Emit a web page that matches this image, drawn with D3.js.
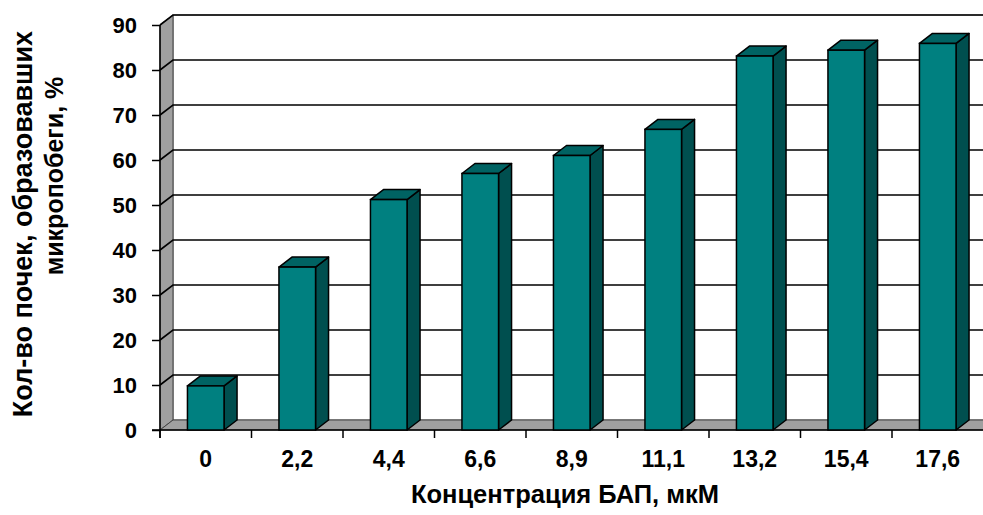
<!DOCTYPE html>
<html><head><meta charset="utf-8">
<script src="https://cdn.jsdelivr.net/npm/d3@7"></script>
<style>
html,body{margin:0;padding:0;background:#fff;}
svg{display:block;font-family:Arial,"Liberation Sans",sans-serif;}
</style></head>
<body>
<svg id="chart" width="983" height="515"></svg>
<script>
const categories = ["0","2,2","4,4","6,6","8,9","11,1","13,2","15,4","17,6"];
const values = [9.8, 36.2, 51.2, 57, 61, 66.8, 83.1, 84.4, 85.9];
const yTicks = [0,10,20,30,40,50,60,70,80,90];
const xTitle = "Концентрация БАП, мкМ";
const yTitleLines = ["Кол-во почек, образовавших", "микропобеги, %"];

const svg = d3.select("#chart");
const pL = 160, pR = 983.5, pB = 430, pT = 25;
const dx = 13, dy = 10;

const x = d3.scaleBand().domain(categories).range([pL, pR]).paddingInner(0.6).paddingOuter(0.3);
const y = d3.scaleLinear().domain([0, 90]).range([pB, pT]);

const wallFill = "#a0a0a0";
const g = svg.append("g");

// back wall
g.append("rect").attr("x", pL + dx).attr("y", y(90) - dy)
  .attr("width", pR - pL).attr("height", y(0) - y(90))
  .attr("fill", "#fff").attr("stroke", "#555").attr("stroke-width", 1);

// side wall
g.append("path")
  .attr("d", `M${pL},${y(0)} L${pL},${y(90)} L${pL+dx},${y(90)-dy} L${pL+dx},${y(0)-dy} Z`)
  .attr("fill", wallFill).attr("stroke", "#444").attr("stroke-width", 1);

// floor
g.append("path")
  .attr("d", `M${pL},${y(0)} L${pR},${y(0)} L${pR+dx},${y(0)-dy} L${pL+dx},${y(0)-dy} Z`)
  .attr("fill", wallFill).attr("stroke", "#444").attr("stroke-width", 1);

// gridlines (back wall + side wall)
yTicks.forEach(t => {
  if (t === 0) return;
  g.append("path")
    .attr("d", `M${pL},${y(t)} L${pL+dx},${y(t)-dy} L${pR+dx},${y(t)-dy}`)
    .attr("fill", "none").attr("stroke", "#000").attr("stroke-width", 1.6);
});

// axes
const yAxis = d3.axisLeft(y).tickValues(yTicks).tickSize(8).tickPadding(15);
const ya = svg.append("g").attr("transform", `translate(${pL},0)`).call(yAxis);
ya.select(".domain").attr("stroke", "#000").attr("stroke-width", 1.5).attr("d", `M0,${y(90)}V${y(0)+8}`);
ya.selectAll(".tick line").attr("stroke", "#000").attr("stroke-width", 1.5);
ya.selectAll("text").attr("font-size", 22).attr("font-weight", "bold").attr("fill", "#000")
  .attr("font-family", "Arial, 'Liberation Sans', sans-serif");

const bounds = categories.map(c => x(c) - x.step() * x.paddingInner() / 2);
const xa = svg.append("g");
xa.append("line").attr("x1", pL - 8).attr("x2", pR).attr("y1", y(0)).attr("y2", y(0))
  .attr("stroke", "#000").attr("stroke-width", 1.5);
bounds.forEach(b => {
  xa.append("line").attr("x1", b).attr("x2", b).attr("y1", y(0)).attr("y2", y(0) + 8)
    .attr("stroke", "#000").attr("stroke-width", 1.5);
});
xa.selectAll("text.xl").data(categories).join("text").attr("class", "xl")
  .attr("x", d => x(d) + x.bandwidth() / 2).attr("y", 467)
  .attr("text-anchor", "middle").attr("font-size", 23).attr("font-weight", "bold").text(d => d);

// bars
const bw = x.bandwidth();
const bars = svg.append("g").selectAll("g").data(values).join("g");
bars.each(function(v, i) {
  const gx = x(categories[i]), gy = y(v), gb = y(0);
  const sel = d3.select(this);
  sel.append("path")
    .attr("d", `M${gx+bw},${gb} L${gx+bw},${gy} L${gx+bw+dx},${gy-dy} L${gx+bw+dx},${gb-dy} Z`)
    .attr("fill", "#004f4f").attr("stroke", "#000").attr("stroke-width", 1.5).attr("stroke-linejoin", "round");
  sel.append("path")
    .attr("d", `M${gx},${gy} L${gx+dx},${gy-dy} L${gx+bw+dx},${gy-dy} L${gx+bw},${gy} Z`)
    .attr("fill", "#006363").attr("stroke", "#000").attr("stroke-width", 1.5).attr("stroke-linejoin", "round");
  sel.append("rect").attr("x", gx).attr("y", gy).attr("width", bw).attr("height", gb - gy)
    .attr("fill", "#008080").attr("stroke", "#000").attr("stroke-width", 1.5);
});

// titles
svg.append("text").attr("x", 565).attr("y", 503).attr("text-anchor", "middle")
  .attr("font-size", 25.5).attr("font-weight", "bold").text(xTitle);

svg.append("text").attr("transform", "translate(32,224) rotate(-90)")
  .attr("text-anchor", "middle").attr("font-size", 27).attr("font-weight", "bold").text(yTitleLines[0]);
svg.append("text").attr("transform", "translate(63,176) rotate(-90)")
  .attr("text-anchor", "middle").attr("font-size", 25).attr("font-weight", "bold").text(yTitleLines[1]);
</script>
</body></html>
